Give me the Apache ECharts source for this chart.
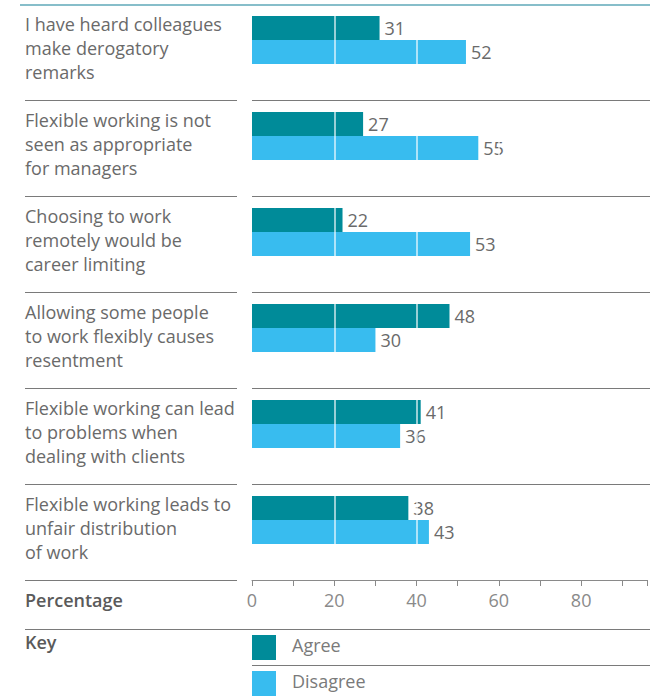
<!DOCTYPE html>
<html>
<head>
<meta charset="utf-8">
<script src="https://cdn.jsdelivr.net/npm/echarts@6/dist/echarts.min.js"></script>
<style>
  html, body { margin: 0; padding: 0; background: #fff; }
  #chart { width: 650px; height: 699px; }
</style>
</head>
<body>
<div id="chart"></div>
<script>
// Survey statements (one per row) and the share of respondents answering each way
const categories = [
  'I have heard colleagues\nmake derogatory\nremarks',
  'Flexible working is not\nseen as appropriate\nfor managers',
  'Choosing to work\nremotely would be\ncareer limiting',
  'Allowing some people\nto work flexibly causes\nresentment',
  'Flexible working can lead\nto problems when\ndealing with clients',
  'Flexible working leads to\nunfair distribution\nof work'
];
const agree = [31, 27, 22, 48, 41, 38];
const disagree = [52, 55, 53, 30, 36, 43];
const gridValues = [20, 40, 60, 80];

const FONT = '"Open Sans", sans-serif';
const TEAL = '#008b99';
const SKY = '#38bcef';
const TEXT = '#6a6a6a';
const RULE = '#7a7a7a';

// layout
const W = 650;
const LEFT = 252, TOP = 4, ROW = 96;
const LABEL_X = 25;

const chart = echarts.init(document.getElementById('chart'), null, { renderer: 'svg' });

// horizontal rules between rows (left text column and plot column)
const rules = [];
for (let i = 1; i <= categories.length; i++) {
  const y = TOP + ROW * i + 0.5;
  rules.push({ type: 'line', z: 100, shape: { x1: LABEL_X, y1: y, x2: 237, y2: y },
    style: { stroke: RULE, lineWidth: 1 } });
  if (i < categories.length) {
    rules.push({ type: 'line', z: 100, shape: { x1: LEFT, y1: y, x2: W, y2: y },
      style: { stroke: RULE, lineWidth: 1 } });
  }
}

const option = {
  backgroundColor: '#fff',
  animation: false,
  textStyle: { fontFamily: FONT },
  grid: { left: LEFT, right: 0, top: TOP, height: ROW * categories.length, containLabel: false },
  xAxis: {
    type: 'value', min: 0, max: 96, interval: 10,
    axisLine: { show: true, lineStyle: { color: '#8a8a8a', width: 1 } },
    axisTick: { show: true, length: 6, lineStyle: { color: '#8a8a8a' } },
    axisLabel: {
      color: '#8a8a8a', fontSize: 18, fontFamily: FONT, margin: 11,
      formatter: v => (v % 20 === 0 && v <= 80 ? String(v) : '')
    },
    splitLine: { show: false }
  },
  yAxis: {
    type: 'category', inverse: true, data: categories,
    axisLine: { show: false }, axisTick: { show: false },
    axisLabel: {
      align: 'left', margin: LEFT - LABEL_X, color: TEXT, fontSize: 18,
      fontFamily: FONT, lineHeight: 24,
      // a short empty line under each label lifts the text block slightly
      formatter: v => v + '\n{gap|}',
      rich: { gap: { lineHeight: 8, fontSize: 8 } }
    }
  },
  legend: {
    data: ['Agree', 'Disagree'], orient: 'vertical', left: LEFT, top: 635,
    padding: 0, itemWidth: 24, itemHeight: 25, itemGap: 11, icon: 'rect',
    selectedMode: false,
    formatter: name => '{t|' + name + '}\n{gap|}',
    textStyle: {
      color: '#7a7a7a', fontSize: 18, fontFamily: FONT,
      rich: {
        t: { color: '#7a7a7a', fontSize: 18, fontFamily: FONT, lineHeight: 18, padding: [0, 0, 0, 11] },
        gap: { lineHeight: 6, fontSize: 6 }
      }
    }
  },
  series: [
    {
      name: 'Agree', type: 'bar', data: agree, barWidth: 24, barGap: '0%',
      itemStyle: { color: TEAL },
      label: { show: true, position: 'right', distance: 5, color: TEXT, fontSize: 18, fontFamily: FONT }
    },
    {
      name: 'Disagree', type: 'bar', data: disagree, barWidth: 24, barGap: '0%',
      itemStyle: { color: SKY },
      label: { show: true, position: 'right', distance: 5, color: TEXT, fontSize: 18, fontFamily: FONT }
    },
    {
      // empty slot below each pair, plus the white gridlines drawn over the bars
      name: 'spacer', type: 'bar', data: categories.map(() => 0), barWidth: 24, barGap: '0%',
      itemStyle: { color: 'rgba(0,0,0,0)' }, silent: true,
      markLine: {
        silent: true, symbol: 'none', label: { show: false },
        lineStyle: { color: '#ffffff', width: 1.5, type: 'solid', opacity: 0.8 },
        data: gridValues.map(v => ({ xAxis: v }))
      }
    }
  ],
  graphic: [
    { type: 'line', z: 100, shape: { x1: 20, y1: 5, x2: W, y2: 5 },
      style: { stroke: '#5fa9b8', lineWidth: 1.5 } },
    ...rules,
    { type: 'text', z: 100, left: LABEL_X, top: 591,
      style: { text: 'Percentage', fill: '#5a5a5a', fontSize: 18, fontWeight: 600, fontFamily: FONT } },
    { type: 'line', z: 100, shape: { x1: LABEL_X, y1: 629.5, x2: W, y2: 629.5 },
      style: { stroke: RULE, lineWidth: 1 } },
    { type: 'text', z: 100, left: LABEL_X, top: 633,
      style: { text: 'Key', fill: '#5a5a5a', fontSize: 18, fontWeight: 600, fontFamily: FONT } },
    { type: 'line', z: 100, shape: { x1: LEFT, y1: 665.5, x2: W, y2: 665.5 },
      style: { stroke: RULE, lineWidth: 1 } }
  ]
};

chart.setOption(option);
</script>
</body>
</html>
